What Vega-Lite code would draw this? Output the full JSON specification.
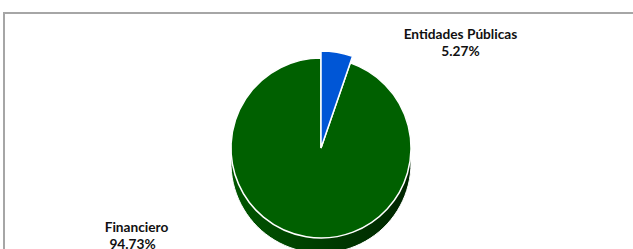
{
  "$schema": "https://vega.github.io/schema/vega-lite/v6.json",
  "autosize": {"type": "none"},
  "width": 634,
  "height": 270,
  "padding": {"left": 4, "top": 13, "right": -5, "bottom": -34},
  "background": "white",
  "view": {"stroke": "#a6a6a6", "strokeWidth": 2},
  "data": {
    "values": [
      {"sector": "Entidades Públicas", "share": 0.0527},
      {"sector": "Financiero", "share": 0.9473}
    ]
  },
  "layer": [
    {
      "mark": {
        "type": "arc",
        "radius": 90,
        "yOffset": 15,
        "stroke": "white",
        "strokeWidth": 1,
        "color": {
          "gradient": "linear",
          "x1": 0, "y1": 0, "x2": 1, "y2": 0,
          "stops": [
            {"offset": 0, "color": "#005600"},
            {"offset": 1, "color": "#002400"}
          ]
        }
      },
      "encoding": {
        "theta": {"field": "share", "type": "quantitative", "stack": true}
      }
    },
    {
      "mark": {"type": "arc", "radius": 90, "stroke": "white", "strokeWidth": 1.5},
      "encoding": {
        "theta": {"field": "share", "type": "quantitative", "stack": true},
        "color": {
          "field": "sector",
          "type": "nominal",
          "scale": {"domain": ["Entidades Públicas", "Financiero"], "range": ["#0056d6", "#006000"]},
          "legend": null
        }
      }
    },
    {
      "mark": {"type": "arc", "radius": 97, "stroke": "white", "strokeWidth": 1.5},
      "encoding": {
        "theta": {"field": "share", "type": "quantitative", "stack": true},
        "opacity": {"condition": {"test": "datum.sector === 'Entidades Públicas'", "value": 1}, "value": 0},
        "color": {
          "field": "sector",
          "type": "nominal",
          "legend": null
        }
      }
    },
    {
      "mark": {"type": "text", "radius": 100, "font": "Lato", "fontWeight": "bold", "fontSize": 13.7, "align": "center", "baseline": "alphabetic", "color": "#111111", "dx": 123, "dy": -10.5},
      "encoding": {
        "theta": {"field": "share", "type": "quantitative", "stack": true},
        "text": {"condition": {"test": "datum.sector === 'Entidades Públicas'", "field": "sector", "type": "nominal"}, "value": ""}
      }
    },
    {
      "mark": {"type": "text", "radius": 100, "font": "Lato", "fontWeight": "bold", "fontSize": 13.7, "align": "center", "baseline": "alphabetic", "color": "#111111", "dx": 123, "dy": 6.5},
      "encoding": {
        "theta": {"field": "share", "type": "quantitative", "stack": true},
        "text": {"condition": {"test": "datum.sector === 'Entidades Públicas'", "field": "share", "type": "quantitative", "format": ".2%"}, "value": ""}
      }
    },
    {
      "mark": {"type": "text", "radius": 100, "font": "Lato", "fontWeight": "bold", "fontSize": 13.7, "align": "center", "baseline": "alphabetic", "color": "#111111", "dx": -168, "dy": -14.5},
      "encoding": {
        "theta": {"field": "share", "type": "quantitative", "stack": true},
        "text": {"condition": {"test": "datum.sector === 'Financiero'", "field": "sector", "type": "nominal"}, "value": ""}
      }
    },
    {
      "mark": {"type": "text", "radius": 100, "font": "Lato", "fontWeight": "bold", "fontSize": 13.7, "align": "center", "baseline": "alphabetic", "color": "#111111", "dx": -172, "dy": 2.5},
      "encoding": {
        "theta": {"field": "share", "type": "quantitative", "stack": true},
        "text": {"condition": {"test": "datum.sector === 'Financiero'", "field": "share", "type": "quantitative", "format": ".2%"}, "value": ""}
      }
    }
  ]
}
